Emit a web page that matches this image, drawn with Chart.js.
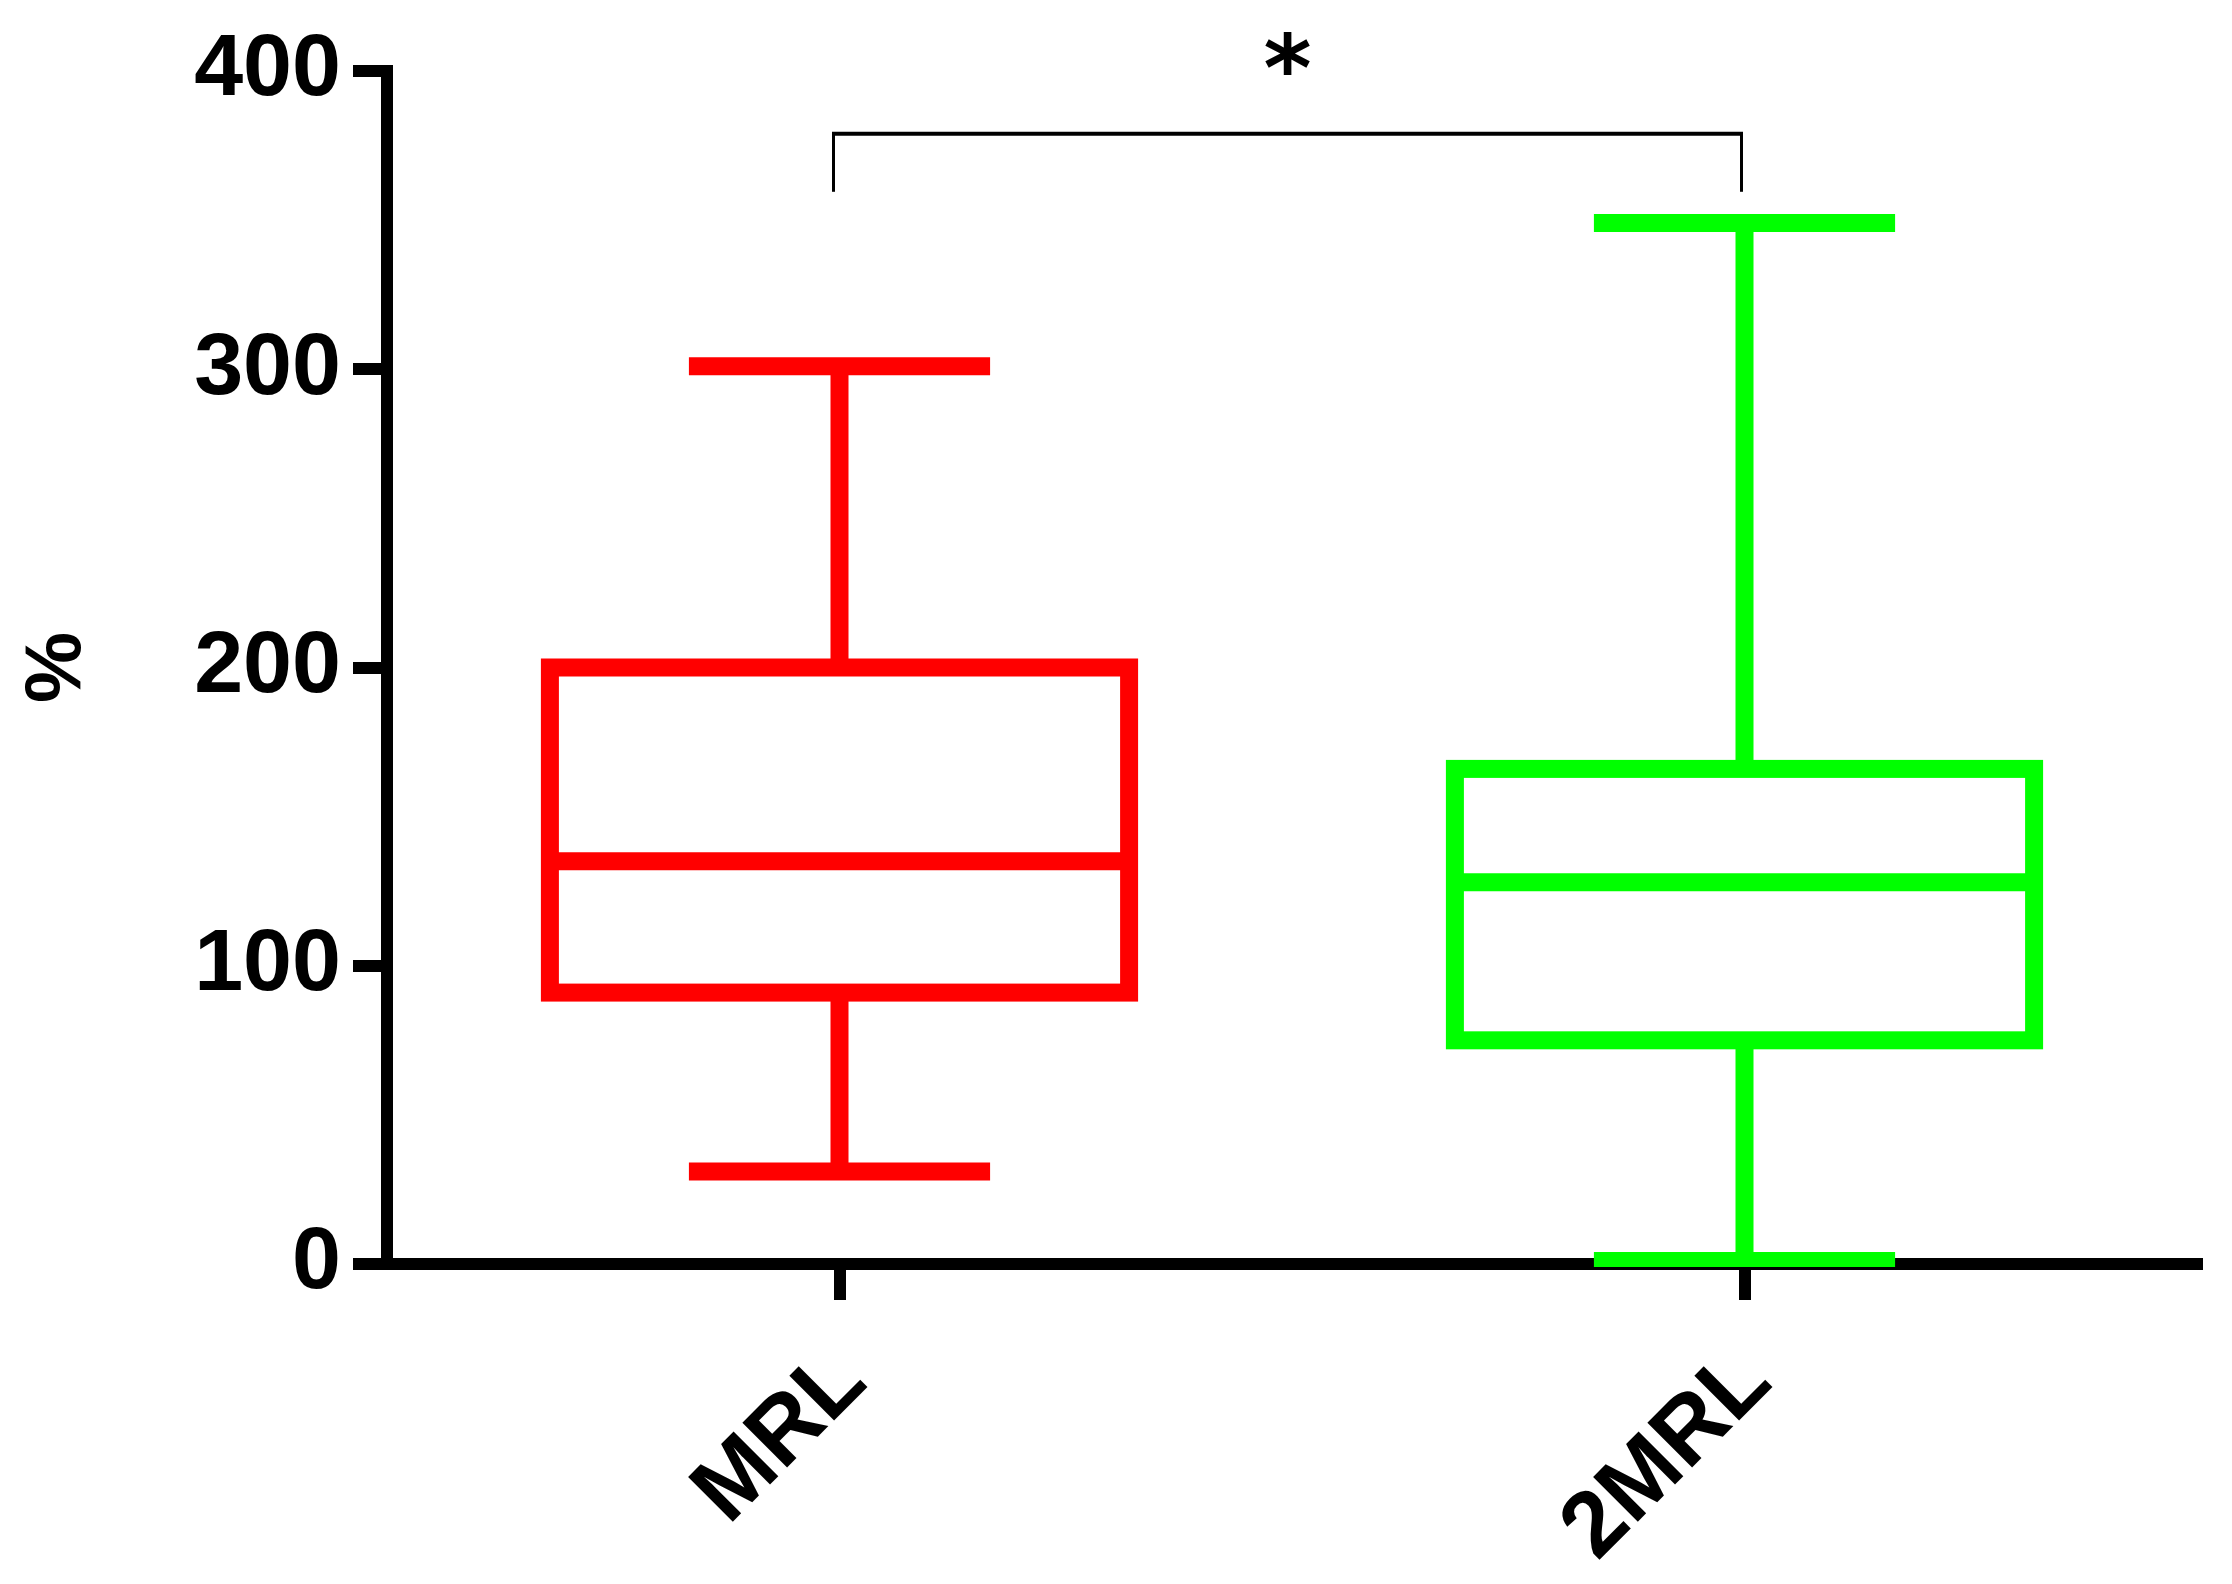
<!DOCTYPE html>
<html>
<head>
<meta charset="utf-8">
<script src="https://cdn.jsdelivr.net/npm/chart.js@4.4.1/dist/chart.umd.min.js"></script>
<style>
  html, body { margin: 0; padding: 0; background: #fff; }
  #wrap { width: 2232px; height: 1584px; }
</style>
</head>
<body>
<div id="wrap"><canvas id="boxChart" width="2232" height="1584"></canvas></div>
<script>
// values (percent)
var groups = ['MRL', '2MRL'];
var minValues = [31, 1];
var q1Values = [91, 75];
var medianValues = [135, 128];
var q3Values = [200, 166];
var maxValues = [301, 349];
var boxColors = ['#ff0000', '#00ff00'];
var yTicks = [0, 100, 200, 300, 400];

var fontFamily = '"Liberation Sans", Arial, sans-serif';

function line(ctx, x1, y1, x2, y2) {
	ctx.beginPath();
	ctx.moveTo(x1, y1);
	ctx.lineTo(x2, y2);
	ctx.stroke();
}

// draws box, median and whiskers on top of the (invisible) floating bars
var boxPlugin = {
	id: 'boxWhisker',
	afterDatasetsDraw: function (chart) {
		var ctx = chart.ctx;
		var y = chart.scales.y;
		var x = chart.scales.x;
		var area = chart.chartArea;
		var meta = chart.getDatasetMeta(0);

		ctx.save();
		ctx.beginPath();
		ctx.rect(0, 0, chart.width, area.bottom + 3);
		ctx.clip();
		ctx.lineWidth = 18;
		ctx.lineCap = 'butt';
		ctx.lineJoin = 'miter';
		meta.data.forEach(function (bar, i) {
			var cx = bar.x;
			var half = bar.width / 2;
			var cap = bar.width * 0.26;
			var pMin = y.getPixelForValue(minValues[i]);
			var pQ1 = y.getPixelForValue(q1Values[i]);
			var pMed = y.getPixelForValue(medianValues[i]);
			var pQ3 = y.getPixelForValue(q3Values[i]);
			var pMax = y.getPixelForValue(maxValues[i]);
			ctx.strokeStyle = boxColors[i];
			ctx.strokeRect(cx - half, pQ3, half * 2, pQ1 - pQ3);
			line(ctx, cx - half, pMed, cx + half, pMed);
			line(ctx, cx, pQ3, cx, pMax);
			line(ctx, cx - cap, pMax, cx + cap, pMax);
			line(ctx, cx, pQ1, cx, pMin);
			line(ctx, cx - cap, pMin, cx + cap, pMin);
		});
		ctx.restore();

		// significance bracket between the two groups
		var opts = chart.options.plugins.boxWhisker;
		var xa = x.getPixelForValue(0) - 6;
		var xb = x.getPixelForValue(1) - 3;
		var yTop = y.getPixelForValue(opts.bracketTop);
		var yLeg = y.getPixelForValue(opts.bracketLeg);
		ctx.save();
		ctx.strokeStyle = '#000';
		ctx.lineWidth = 3;
		line(ctx, xa, yTop, xa, yLeg);
		line(ctx, xb, yTop, xb, yLeg);
		ctx.lineWidth = 4;
		line(ctx, xa - 1.5, yTop, xb + 1.5, yTop);

		ctx.fillStyle = '#000';
		ctx.font = 'bold 92px "DejaVu Sans", sans-serif';
		ctx.textAlign = 'center';
		ctx.textBaseline = 'alphabetic';
		var m = ctx.measureText(opts.mark);
		var cy = y.getPixelForValue(opts.markValue);
		ctx.fillText(opts.mark, (xa + xb) / 2, cy + (m.actualBoundingBoxAscent - m.actualBoundingBoxDescent) / 2);
		ctx.restore();
	}
};

var ctx = document.getElementById('boxChart').getContext('2d');
var boxChart = new Chart(ctx, {
	type: 'bar',
	data: {
		labels: groups,
		datasets: [{
			label: 'IQR',
			data: groups.map(function (g, i) { return [q1Values[i], q3Values[i]]; }),
			backgroundColor: 'rgba(0,0,0,0)',
			borderWidth: 0,
			barPercentage: 0.64,
			categoryPercentage: 1.0
		}]
	},
	options: {
		responsive: false,
		animation: false,
		devicePixelRatio: 1,
		layout: {
			padding: { top: 71, right: 35, left: 0, bottom: 0 }
		},
		scales: {
			x: {
				type: 'category',
				offset: true,
				grid: {
					offset: false,
					drawOnChartArea: false,
					tickLength: 36,
					lineWidth: 12,
					color: '#000'
				},
				border: { display: true, color: '#000', width: 12 },
				ticks: {
					color: '#000',
					font: { family: fontFamily, size: 92, weight: 'bold' },
					minRotation: 45,
					maxRotation: 45,
					labelOffset: 12,
					padding: 28
				},
				afterFit: function (scale) { scale.height = 320; }
			},
			y: {
				min: 0,
				max: 400,
				afterBuildTicks: function (scale) {
					scale.ticks = yTicks.map(function (v) { return { value: v }; });
				},
				grid: {
					drawOnChartArea: false,
					tickLength: 34,
					lineWidth: 12,
					color: '#000'
				},
				border: { display: true, color: '#000', width: 12 },
				ticks: {
					color: '#000',
					font: { family: fontFamily, size: 88, weight: 'bold' },
					padding: 12
				},
				title: {
					display: true,
					text: '%',
					color: '#000',
					font: { family: fontFamily, size: 80, weight: 'bold' },
					padding: { top: 10, bottom: 0 }
				},
				afterFit: function (scale) { scale.width = 387; }
			}
		},
		plugins: {
			legend: { display: false },
			tooltip: { enabled: false },
			boxWhisker: {
				bracketTop: 379,
				bracketLeg: 359.5,
				mark: '*',
				markValue: 406
			}
		}
	},
	plugins: [boxPlugin]
});
</script>
</body>
</html>
